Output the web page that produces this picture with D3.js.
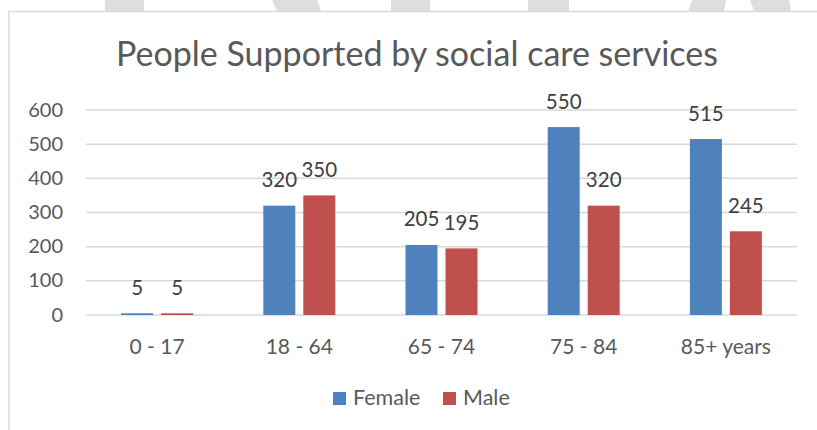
<!DOCTYPE html>
<html><head><meta charset="utf-8">
<script src="https://cdn.jsdelivr.net/npm/d3@7"></script>
<style>html,body{margin:0;padding:0;background:#fff;}svg{display:block;}</style>
</head><body>
<svg id="chart" width="817" height="430"></svg>
<script>
const categories = ["0 - 17", "18 - 64", "65 - 74", "75 - 84", "85+ years"];
const seriesNames = ["Female", "Male"];
const female = [5, 320, 205, 550, 515];
const male = [5, 350, 195, 320, 245];
const yTicks = [0, 100, 200, 300, 400, 500, 600];
const title = "People Supported by social care services";
const colors = ["#4f81bd", "#c0504d"];

const svg = d3.select("#chart");
const font = "Lato, 'Open Sans', sans-serif";

// background decorations (watermark fragments above frame)
const deco = [
  [[105,0],[144,0],[144,11],[105,11]],
  [[272,0],[317,0],[321,11],[277,11]],
  [[391,0],[430,0],[430,11],[391,11]],
  [[528,0],[569,0],[569,11],[528,11]],
  [[692,0],[726,0],[724,11],[688,11]],
  [[750,0],[789,0],[791,11],[754,11]]
];
svg.selectAll("polygon.deco").data(deco).join("polygon")
  .attr("class","deco").attr("points", d => d.map(p => p.join(",")).join(" "))
  .attr("fill", "#dedede");

// chart frame
svg.append("path").attr("d", "M9,432 V11.5 H820")
  .attr("fill","none").attr("stroke","#d9d9d9").attr("stroke-width",1.5);

const x0 = d3.scaleBand().domain(categories).range([86, 797]).paddingInner(0).paddingOuter(0);
const y = d3.scaleLinear().domain([0, 600]).range([315, 110]);

// gridlines
svg.append("g").selectAll("line").data(yTicks).join("line")
  .attr("x1", 86).attr("x2", 797)
  .attr("y1", d => y(d)).attr("y2", d => y(d))
  .attr("stroke", "#d9d9d9").attr("stroke-width", 1.5);

// y axis labels
const yAxis = d3.axisLeft(y).tickValues(yTicks).tickSize(0).tickPadding(0);
const gy = svg.append("g").attr("transform", "translate(63,-1)").call(yAxis);
gy.select(".domain").remove();
gy.selectAll("text").attr("font-family", font).attr("font-size", 20).attr("fill", "#595959").attr("dy", "0.35em");

// x axis labels
const xAxis = d3.axisBottom(x0).tickSize(0).tickPadding(0);
const gx = svg.append("g").attr("transform", "translate(0,354)").call(xAxis);
gx.select(".domain").remove();
gx.selectAll("text").attr("font-family", font).attr("font-size", 21).attr("fill", "#595959").attr("dy", 0);

// bars
const barW = 32, gap = 8;
const groupW = barW * 2 + gap;
const x1 = d3.scaleOrdinal().domain(seriesNames).range([0, barW + gap]);
const data = categories.map((c, i) => ({cat: c, vals: [
  {s: "Female", v: female[i]}, {s: "Male", v: male[i]}
]}));
const groups = svg.append("g").selectAll("g").data(data).join("g")
  .attr("transform", d => `translate(${x0(d.cat) + (x0.bandwidth() - groupW) / 2},0)`);
groups.selectAll("rect").data(d => d.vals).join("rect")
  .attr("x", d => x1(d.s)).attr("width", barW)
  .attr("y", d => y(d.v)).attr("height", d => y(0) - y(d.v))
  .attr("fill", (d, i) => colors[i]);
groups.selectAll("text").data(d => d.vals).join("text")
  .attr("x", d => x1(d.s) + barW / 2).attr("y", d => y(d.v) - 18.5)
  .attr("text-anchor", "middle").attr("font-family", font).attr("font-size", 20.5)
  .attr("fill", "#404040").text(d => d.v);

// title
svg.append("text").attr("x", 417).attr("y", 66).attr("text-anchor", "middle")
  .attr("font-family", font).attr("font-size", 34).attr("fill", "#595959").text(title);

// legend
const legendItems = [{n: "Female", x: 333}, {n: "Male", x: 443}];
const lg = svg.append("g").selectAll("g").data(seriesNames).join("g")
  .attr("transform", (d, i) => `translate(${legendItems[i].x},0)`);
lg.append("rect").attr("x", 0).attr("y", 392).attr("width", 13).attr("height", 13)
  .attr("fill", (d, i) => colors[i]);
lg.append("text").attr("x", 20).attr("y", 405).attr("font-family", font).attr("font-size", 21.5)
  .attr("fill", "#595959").text(d => d);
</script>
</body></html>
